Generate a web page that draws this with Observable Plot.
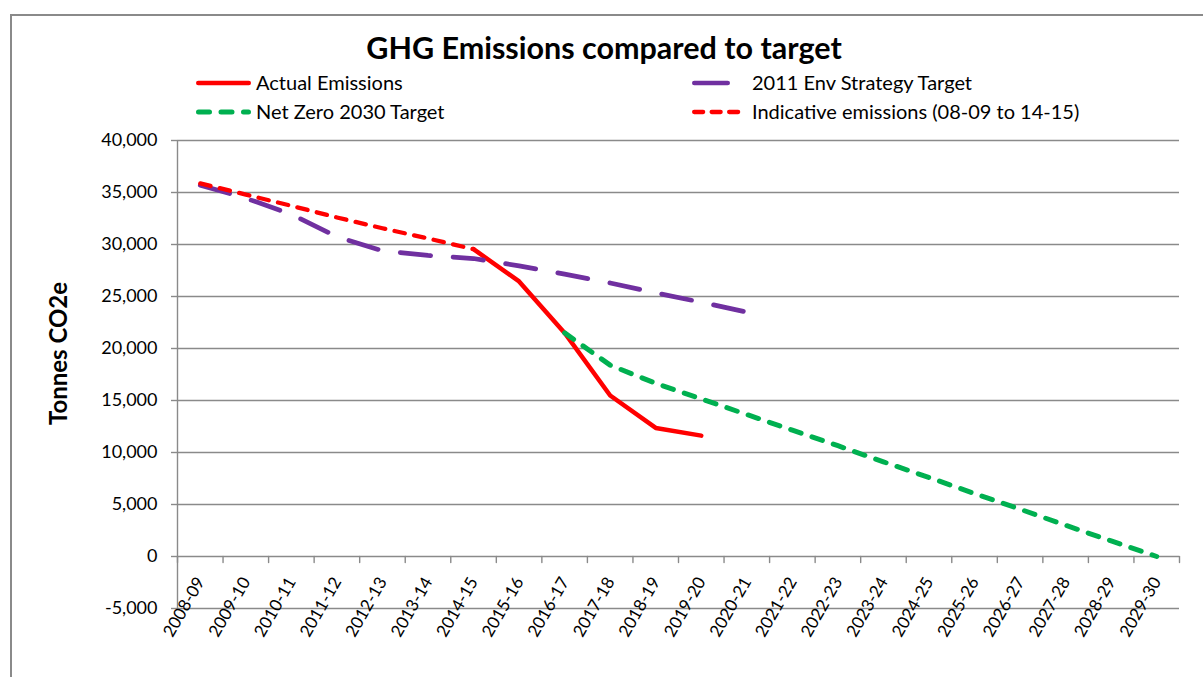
<!DOCTYPE html>
<html>
<head>
<meta charset="utf-8">
<script src="https://cdn.jsdelivr.net/npm/d3@7"></script>
<script src="https://cdn.jsdelivr.net/npm/@observablehq/plot@0.6"></script>
<style>
  html, body { margin: 0; padding: 0; background: #fff; overflow: hidden; }
  #wrap { position: relative; width: 1203px; height: 677px; font-family: Lato, "Open Sans", sans-serif; }
  #frame { position: absolute; left: 10px; top: 14px; width: 3000px; height: 3000px;
           border-left: 2px solid #8a8a8a; border-top: 2px solid #8a8a8a; pointer-events: none; }
</style>
</head>
<body>
<div id="wrap">
  <div id="header"></div>
  <div id="chart"></div>
  <div id="frame"></div>
</div>
<script>
// ---------- data ----------
const categories = ["2008-09","2009-10","2010-11","2011-12","2012-13","2013-14","2014-15","2015-16",
  "2016-17","2017-18","2018-19","2019-20","2020-21","2021-22","2022-23","2023-24","2024-25",
  "2025-26","2026-27","2027-28","2028-29","2029-30"];

const actualEmissions     = [null,null,null,null,null,null,29550,26450,21500,15480,12360,11620,
  null,null,null,null,null,null,null,null,null,null];
const envStrategyTarget   = [35700,34450,32900,30750,29400,28950,28650,27950,27150,26300,25350,24450,23500,
  null,null,null,null,null,null,null,null,null];
const netZeroTarget       = [null,null,null,null,null,null,null,null,21500,18400,16650,15150,13650,12150,
  10650,9100,7600,6050,4550,3000,1500,0];
const indicativeEmissions = [35870,34800,33720,32600,31560,30580,29550,
  null,null,null,null,null,null,null,null,null,null,null,null,null,null,null];

const yTicks = [-5000,0,5000,10000,15000,20000,25000,30000,35000,40000];

const seriesNames = ["Actual Emissions","2011 Env Strategy Target","Net Zero 2030 Target","Indicative emissions (08-09 to 14-15)"];
const title = "GHG Emissions compared to target";
const yLabel = "Tonnes CO2e";

// ---------- styles ----------
const RED = "#ff0000", PURPLE = "#7030a0", GREEN = "#00b050", GRID = "#8a8a8a";
const styles = {
  actual:     {stroke: RED, strokeWidth: 4.5, dash: null, cap: "round", legendLen: 55},
  env:        {stroke: PURPLE, strokeWidth: 4.7, dash: "30.5,22.5", cap: "round", legendLen: 38},
  netzero:    {stroke: GREEN, strokeWidth: 5, dash: "11,11.5", cap: "round", legendLen: 55},
  indicative: {stroke: RED, strokeWidth: 4.3, dash: "10.5,9.5", cap: "round", legendLen: 55}
};

function rows(values) {
  return values.map((v, i) => ({i, cat: categories[i], v}));
}
function lineMark(values, s) {
  return Plot.line(rows(values).filter(d => d.v != null), {
    x: "i", y: "v", stroke: s.stroke, strokeWidth: s.strokeWidth,
    strokeDasharray: s.dash || undefined, strokeLinecap: s.cap, strokeLinejoin: "round"
  });
}

// ---------- header (title + legend) ----------
const header = d3.select("#header").append("svg")
  .attr("width", 1203).attr("height", 130).style("display", "block")
  .style("font-family", "Lato, 'Open Sans', sans-serif");

header.append("text").attr("x", 604).attr("y", 59).attr("text-anchor", "middle")
  .attr("font-size", 30.5).attr("font-weight", "bold").attr("fill", "#000").text(title);

const legendItems = [
  {name: seriesNames[0], s: styles.actual,     x: 196, y: 83},
  {name: seriesNames[1], s: styles.env,        x: 692, y: 83},
  {name: seriesNames[2], s: styles.netzero,    x: 196, y: 112},
  {name: seriesNames[3], s: styles.indicative, x: 692, y: 112}
];
const legendDash = {netzero: "11,11.5", indicative: "9,8.5"};
for (const it of legendItems) {
  const l = header.append("line")
    .attr("x1", it.x + it.s.strokeWidth / 2).attr("x2", it.x + it.s.legendLen - it.s.strokeWidth / 2)
    .attr("y1", it.y).attr("y2", it.y)
    .attr("stroke", it.s.stroke).attr("stroke-width", it.s.strokeWidth)
    .attr("stroke-linecap", it.s.cap);
  if (it.s === styles.netzero) l.attr("stroke-dasharray", legendDash.netzero);
  if (it.s === styles.indicative) l.attr("stroke-dasharray", legendDash.indicative);
  header.append("text").attr("x", it.x + 60).attr("y", it.y + 7)
    .attr("font-size", 20).attr("fill", "#000").text(it.name);
}

// ---------- chart ----------
const boundaries = d3.range(categories.length + 1).map(k => k - 0.5);
const tickShape = {draw(context, l) { context.moveTo(0, 0); context.lineTo(0, -l); }};
const fmt = d => d.toLocaleString("en-US");

const chart = Plot.plot({
  width: 1203,
  height: 547,
  marginLeft: 177,
  marginRight: 24,
  marginTop: 10,
  marginBottom: 69,
  x: {type: "linear", domain: [-0.5, categories.length - 0.5], axis: null},
  y: {domain: [-5000, 40000], axis: null},
  style: {fontFamily: "Lato, 'Open Sans', sans-serif", fontSize: "17px", color: "#000", background: "white", overflow: "visible"},
  marks: [
    Plot.gridY(yTicks, {stroke: GRID, strokeOpacity: 1, strokeWidth: 1.4}),
    Plot.ruleX([-0.5], {stroke: GRID, strokeWidth: 1.4}),
    Plot.axisY(yTicks, {tickSize: 6, tickPadding: 14, tickFormat: fmt, stroke: GRID, strokeWidth: 1.4,
      fill: "#000", fontSize: 18, label: null}),
    Plot.vector(boundaries, {x: d => d, y: 0, length: 6, rotate: 180, anchor: "start",
      shape: tickShape, stroke: GRID, strokeWidth: 1.4}),
    Plot.text(categories, {x: (d, i) => i, y: 0, text: d => d, rotate: -60, textAnchor: "end",
      lineAnchor: "bottom", dx: 5, dy: 25, fontSize: 17, fill: "#000"}),
    lineMark(actualEmissions, styles.actual),
    lineMark(envStrategyTarget, styles.env),
    lineMark(netZeroTarget, styles.netzero),
    lineMark(indicativeEmissions, styles.indicative),
    Plot.text([yLabel], {frameAnchor: "left", dx: -111, dy: -21, rotate: -90, textAnchor: "middle",
      lineAnchor: "bottom", fontWeight: "bold", fontSize: 24, fill: "#000"})
  ]
});
document.getElementById("chart").appendChild(chart);
</script>
</body>
</html>
